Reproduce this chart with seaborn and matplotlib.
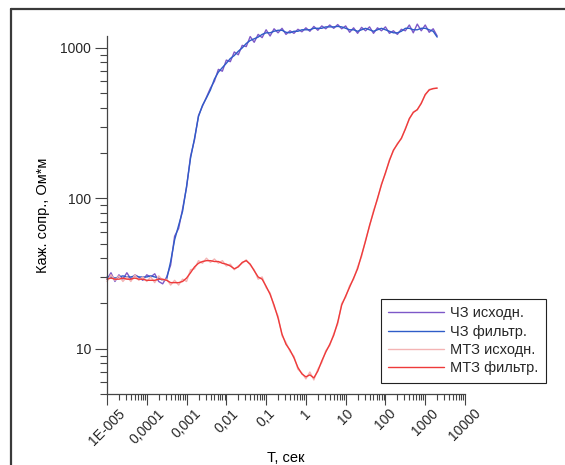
import numpy as np
import pandas as pd
import matplotlib
matplotlib.use("Agg")
import matplotlib.pyplot as plt
from matplotlib.lines import Line2D
from matplotlib.ticker import FixedLocator, FixedFormatter, LogLocator, NullFormatter
import seaborn as sns

# ---- data ----
LOG_T = [-5.0, -4.9, -4.8, -4.7, -4.6, -4.5, -4.4, -4.3, -4.2, -4.1,
         -4.0, -3.9, -3.8, -3.7, -3.6, -3.5, -3.4, -3.3, -3.2, -3.1,
         -3.0, -2.9, -2.8, -2.7, -2.6, -2.5, -2.4, -2.3, -2.2, -2.1,
         -2.0, -1.9, -1.8, -1.7, -1.6, -1.5, -1.4, -1.3, -1.2, -1.1,
         -1.0, -0.9, -0.8, -0.7, -0.6, -0.5, -0.4, -0.3, -0.2, -0.1,
         0.0, 0.1, 0.2, 0.3, 0.4, 0.5, 0.6, 0.7, 0.8, 0.9,
         1.0, 1.1, 1.2, 1.3, 1.4, 1.5, 1.6, 1.7, 1.8, 1.9,
         2.0, 2.1, 2.2, 2.3, 2.4, 2.5, 2.6, 2.7, 2.8, 2.9,
         3.0, 3.1, 3.2, 3.3]

CHZ_RAW = [29, 32, 28, 31, 29, 32, 29, 31, 30, 28.5,
           31, 30, 31.5, 28, 27, 30, 36, 56, 63, 85,
           118, 190, 245, 355, 410, 470, 540, 600, 720, 700,
           830, 810, 940, 900, 1040, 1020, 1190, 1090, 1230, 1170,
           1320, 1200, 1340, 1260, 1350, 1230, 1300, 1250, 1330, 1280,
           1360, 1290, 1390, 1310, 1400, 1340, 1420, 1350, 1430, 1340,
           1400, 1270, 1360, 1250, 1370, 1300, 1380, 1250, 1360, 1300,
           1380, 1250, 1300, 1230, 1330, 1300, 1420, 1260, 1440, 1300,
           1420, 1270, 1340, 1200]

CHZ_FILT = [30, 30, 29.5, 30, 30.5, 30, 30, 30.5, 30, 30,
            30, 30.5, 30, 29.5, 28.5, 29, 38, 53, 66, 82,
            120, 185, 250, 350, 415, 465, 525, 620, 690, 740,
            790, 850, 890, 950, 1000, 1070, 1120, 1150, 1180, 1230,
            1260, 1260, 1290, 1310, 1310, 1270, 1260, 1290, 1290, 1320,
            1320, 1320, 1350, 1350, 1350, 1380, 1380, 1380, 1390, 1380,
            1350, 1320, 1320, 1290, 1320, 1350, 1320, 1290, 1320, 1350,
            1320, 1290, 1260, 1260, 1290, 1350, 1350, 1320, 1320, 1350,
            1350, 1320, 1290, 1180]

MTZ_RAW = [28, 31, 28.5, 30.5, 28, 30, 28, 31, 28.5, 30,
           28, 30, 27.5, 30.5, 28.5, 29, 26.5, 28.5, 26.5, 29,
           28, 33.5, 34, 38.5, 37, 40, 37.5, 39.5, 37, 38.5,
           35.5, 36.5, 33.5, 35.5, 37, 39, 36, 33.5, 29, 30,
           25.5, 23.5, 19, 16.5, 12.2, 11, 9.6, 8.9, 7.3, 6.9,
           6.3, 7.0, 6.2, 7.3, 8.1, 9.7, 10.5, 12.6, 14.6, 20,
           22, 26.3, 29, 35, 41, 53, 65, 83, 98, 125,
           146, 181, 206, 232, 248, 292, 335, 376, 386, 432,
           485, 530, 534, 542]

MTZ_FILT = [29, 29.5, 29, 29, 29.5, 29, 29, 29.5, 29, 29,
            28.5, 28.5, 28.5, 29, 29, 28.5, 27.5, 27.5, 27.5, 28,
            29.5, 32, 35, 37, 38, 38.5, 38.5, 38, 38, 37,
            36.5, 35.5, 34, 35, 37.5, 38.5, 36.5, 33, 30, 29,
            26, 23, 19.5, 16, 12.5, 10.7, 9.8, 8.7, 7.5, 6.8,
            6.5, 6.7, 6.4, 7.1, 8.3, 9.5, 10.7, 12.3, 15, 19.5,
            22.4, 25.7, 29.5, 34, 42, 52, 66, 81, 100, 123,
            148, 178, 209, 229, 251, 288, 339, 372, 389, 427,
            490, 525, 537, 540]

SERIES_NAMES = ["ЧЗ исходн.", "ЧЗ фильтр.", "МТЗ исходн.", "МТЗ фильтр."]
SERIES_DATA = [CHZ_RAW, CHZ_FILT, MTZ_RAW, MTZ_FILT]
COLORS = ["#7d58c8", "#2f5cc8", "#f4b4b4", "#ee3a3a"]

X_TICKS = [1e-5, 1e-4, 1e-3, 1e-2, 1e-1, 1, 10, 100, 1000, 10000]
X_TICK_LABELS = ["1E-005", "0,0001", "0,001", "0,01", "0,1", "1", "10", "100", "1000", "10000"]
Y_TICKS = [10, 100, 1000]
Y_TICK_LABELS = ["10", "100", "1000"]

T_VALUES = [10 ** v for v in LOG_T]
frames = []
for name, vals in zip(SERIES_NAMES, SERIES_DATA):
    frames.append(pd.DataFrame({"T": T_VALUES, "rho": vals, "series": name}))
df = pd.concat(frames, ignore_index=True)

# ---- style ----
sns.set_theme(style="white")
plt.rcParams["font.family"] = ["Liberation Sans", "DejaVu Sans"]

W, H = 565, 465
fig = plt.figure(figsize=(W / 100, H / 100), dpi=100)
ax = fig.add_axes([107 / W, (H - 394) / H, (465 - 107) / W, (394 - 36) / H])

palette = dict(zip(SERIES_NAMES, COLORS))
sns.lineplot(data=df, x="T", y="rho", hue="series", hue_order=SERIES_NAMES,
             palette=palette, estimator=None, sort=False, linewidth=1.0,
             legend=False, ax=ax)
for ln in ax.get_lines():
    ln.set_clip_on(False)

ax.set_xscale("log")
ax.set_yscale("log")
ax.set_xlim(1e-5, 1e4)
ax.set_ylim(5, 1200)

ax.xaxis.set_major_locator(FixedLocator(X_TICKS))
ax.xaxis.set_major_formatter(FixedFormatter(X_TICK_LABELS))
ax.xaxis.set_minor_locator(LogLocator(base=10, subs=np.arange(2, 10), numticks=20))
ax.xaxis.set_minor_formatter(NullFormatter())
ax.yaxis.set_major_locator(FixedLocator(Y_TICKS))
ax.yaxis.set_major_formatter(FixedFormatter(Y_TICK_LABELS))
ax.yaxis.set_minor_locator(LogLocator(base=10, subs=np.arange(2, 10), numticks=20))
ax.yaxis.set_minor_formatter(NullFormatter())

for s in ["top", "right"]:
    ax.spines[s].set_visible(False)
for s in ["left", "bottom"]:
    ax.spines[s].set_color("#444444")
    ax.spines[s].set_linewidth(0.9)

ax.tick_params(axis="y", which="major", direction="out", length=8.6, width=0.8,
               color="#444444", labelsize=10, pad=3, left=True)
ax.tick_params(axis="y", which="minor", direction="out", length=5, width=0.8,
               color="#444444", left=True)
ax.tick_params(axis="x", which="major", direction="out", length=7.9, width=0.8,
               color="#444444", labelsize=10, pad=1, bottom=True)
ax.tick_params(axis="x", which="minor", direction="out", length=4.3, width=0.8,
               color="#444444", bottom=True)
for lbl in ax.get_xticklabels():
    lbl.set_rotation(45)
    lbl.set_ha("center")
    lbl.set_va("top")

ax.set_xlabel("T, сек", fontsize=10.5, color="black", labelpad=2)
ax.set_ylabel("Каж. сопр., Ом*м", fontsize=10.5, color="black", labelpad=7)
ax.grid(False)

handles = [Line2D([0], [0], color=c, lw=1.0) for c in COLORS]
leg = fig.legend(handles, SERIES_NAMES, loc="upper left",
                 bbox_to_anchor=(381 / W, (H - 299) / H), bbox_transform=fig.transFigure,
                 fontsize=10.5, frameon=True, fancybox=False, shadow=False,
                 handlelength=3.8, handletextpad=0.45, labelspacing=0.3,
                 borderpad=0.5, borderaxespad=0)
leg.get_frame().set_edgecolor("#222222")
leg.get_frame().set_linewidth(0.8)
leg.get_frame().set_alpha(1)

# outer frame (top and left lines)
fig.add_artist(Line2D([11 / W, 1.0], [1 - 9 / H, 1 - 9 / H], transform=fig.transFigure,
                      color="#3a3a3a", lw=1.6))
fig.add_artist(Line2D([11 / W, 11 / W], [0.0, 1 - 9 / H], transform=fig.transFigure,
                      color="#3a3a3a", lw=1.6))

fig.savefig("out.png", dpi=100, facecolor="white")
